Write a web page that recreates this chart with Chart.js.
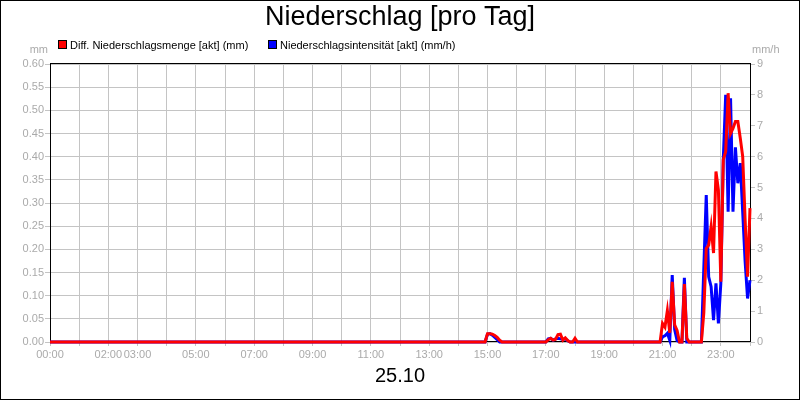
<!DOCTYPE html>
<html>
<head>
<meta charset="utf-8">
<script src="https://cdn.jsdelivr.net/npm/chart.js@4"></script>
<style>
  html, body { margin: 0; padding: 0; background: #fff; }
</style>
</head>
<body>
<canvas id="niederschlag" width="800" height="400"></canvas>
<script>
// Stunden mit Beschriftung an der x-Achse (wie im Original)
const labeledHours = [0, 2, 3, 5, 7, 9, 11, 13, 15, 17, 19, 21, 23];

// Diff. Niederschlagsmenge (mm), 5-Minuten-Werte
const mengeTimes = ['00:00', '14:55', '15:00', '15:05', '15:10', '15:15', '15:20', '15:25', '15:30',
  '17:00', '17:05', '17:10', '17:15', '17:20', '17:25', '17:30', '17:35', '17:40', '17:45', '17:50', '17:55', '18:00', '18:05',
  '20:55', '21:00', '21:05', '21:10', '21:15', '21:20', '21:25', '21:30', '21:35', '21:40', '21:45', '21:50', '21:55',
  '22:20', '22:25', '22:30', '22:35', '22:40', '22:45', '22:50', '22:55', '23:00', '23:05', '23:10', '23:15',
  '23:20', '23:25', '23:30', '23:35', '23:40', '23:45', '23:50', '23:55', '24:00'];
const mengeValues = [0, 0, 0.018, 0.018, 0.017, 0.014, 0.010, 0.004, 0,
  0, 0.005, 0.008, 0.004, 0.006, 0.016, 0.017, 0.004, 0.009, 0.003, 0, 0, 0.008, 0,
  0, 0.040, 0.032, 0.068, 0.020, 0.130, 0.037, 0.025, 0, 0, 0.125, 0.008, 0,
  0, 0.063, 0.202, 0.209, 0.249, 0.192, 0.368, 0.328, 0.130, 0.393, 0.411, 0.537,
  0.450, 0.461, 0.476, 0.476, 0.440, 0.400, 0.263, 0.141, 0.289];

// Niederschlagsintensität (mm/h)
const intensTimes = ['00:00', '14:55', '15:00', '15:05', '15:10', '15:15', '15:20', '15:25',
  '17:00', '17:05', '17:10', '17:15', '17:20', '17:25', '17:30', '17:35', '17:40', '17:45', '17:50',
  '20:55', '21:00', '21:05', '21:10', '21:15', '21:20', '21:25', '21:30', '21:35', '21:40', '21:45', '21:50',
  '22:20', '22:25', '22:30', '22:35', '22:40', '22:45', '22:50', '22:55', '23:00', '23:05', '23:10', '23:15',
  '23:20', '23:25', '23:30', '23:35', '23:40', '23:45', '23:50', '23:55', '24:00'];
const intensValues = [0, 0, 0.25, 0.27, 0.22, 0.15, 0.08, 0,
  0, 0.10, 0.12, 0.06, 0.10, 0.12, 0.10, 0.08, 0.10, 0.04, 0,
  0, 0.17, 0.20, 0.28, 0.05, 2.17, 0.40, 0.05, 0, 0, 2.08, 0,
  0, 2.40, 4.76, 2.11, 1.79, 0.71, 1.90, 0.60, 1.90, 5.90, 8.00, 4.22,
  7.89, 4.22, 6.30, 5.14, 5.79, 4.20, 2.60, 1.41, 2.00];

const toHours = (t) => {
  const [h, m] = t.split(':').map(Number);
  return h + m / 60;
};
const toPoints = (times, values) => times.map((t, i) => ({ x: toHours(t), y: values[i] }));

const FONT = '"Liberation Sans", Arial, sans-serif';
const GRAY = '#aaaaaa';
const GRID = '#c4c4c4';

// Rahmen, Einheiten und Legende
const extras = {
  id: 'extras',
  beforeDatasetsDraw(chart) {
    const { ctx, chartArea: a } = chart;
    ctx.save();
    ctx.strokeStyle = '#000';
    ctx.lineWidth = 1;
    ctx.strokeRect(a.left + 0.5, a.top - 0.5, a.right - a.left, a.bottom - a.top);
    ctx.restore();
  },
  afterDraw(chart) {
    const { ctx } = chart;
    ctx.save();
    ctx.strokeStyle = '#000';
    ctx.lineWidth = 1;
    ctx.strokeRect(0.5, 0.5, 799, 399);

    ctx.font = '11px ' + FONT;
    ctx.fillStyle = GRAY;
    ctx.textBaseline = 'alphabetic';
    ctx.textAlign = 'right';
    ctx.fillText('mm', 48, 53);
    ctx.textAlign = 'left';
    ctx.fillText('mm/h', 752, 53);

    const legendX = [58, 268];
    chart.data.datasets.forEach((ds, i) => {
      const x = legendX[i];
      ctx.fillStyle = ds.borderColor;
      ctx.fillRect(x + 0.5, 40.5, 8, 8);
      ctx.strokeStyle = '#000';
      ctx.strokeRect(x + 0.5, 40.5, 8, 8);
      ctx.fillStyle = '#000';
      ctx.textAlign = 'left';
      ctx.fillText(ds.label, x + 12, 49);
    });
    ctx.restore();
  }
};

new Chart(document.getElementById('niederschlag'), {
  type: 'line',
  data: {
    datasets: [
      {
        label: 'Diff. Niederschlagsmenge [akt] (mm)',
        data: toPoints(mengeTimes, mengeValues),
        borderColor: '#ff0000',
        backgroundColor: '#ff0000',
        borderWidth: 3,
        pointRadius: 0,
        tension: 0,
        clip: false,
        yAxisID: 'y'
      },
      {
        label: 'Niederschlagsintensität [akt] (mm/h)',
        data: toPoints(intensTimes, intensValues),
        borderColor: '#0000ff',
        backgroundColor: '#0000ff',
        borderWidth: 3,
        pointRadius: 0,
        tension: 0,
        clip: false,
        yAxisID: 'y1'
      }
    ]
  },
  options: {
    responsive: false,
    animation: false,
    layout: { padding: 0 },
    plugins: {
      legend: { display: false },
      tooltip: { enabled: false },
      title: {
        display: true,
        text: 'Niederschlag [pro Tag]',
        color: '#000',
        font: { family: FONT, size: 27, weight: 'normal' },
        padding: { top: 1, bottom: 30.6 }
      }
    },
    scales: {
      x: {
        type: 'linear',
        min: 0,
        max: 24,
        afterFit: (s) => { s.height = 58; },
        ticks: {
          stepSize: 1,
          autoSkip: false,
          maxRotation: 0,
          padding: 2,
          color: GRAY,
          font: { family: FONT, size: 11 },
          callback: (v) => labeledHours.includes(v) ? String(v).padStart(2, '0') + ':00' : ''
        },
        grid: { color: GRID, tickLength: 4 },
        border: { display: false },
        title: {
          display: true,
          text: '25.10',
          color: '#000',
          font: { family: FONT, size: 20 },
          padding: { top: 0, bottom: 12 }
        }
      },
      y: {
        position: 'left',
        min: 0,
        max: 0.6,
        afterFit: (s) => { s.width = 50; },
        ticks: {
          stepSize: 0.05,
          padding: 1,
          color: GRAY,
          font: { family: FONT, size: 11 },
          callback: (v) => Number(v).toFixed(2)
        },
        grid: { color: GRID, tickLength: 5 },
        border: { display: false }
      },
      y1: {
        position: 'right',
        min: 0,
        max: 9,
        afterFit: (s) => { s.width = 50; },
        ticks: {
          stepSize: 1,
          padding: 2,
          color: GRAY,
          font: { family: FONT, size: 11 }
        },
        grid: { drawOnChartArea: false, color: GRID, tickLength: 5 },
        border: { display: false }
      }
    }
  },
  plugins: [extras]
});
</script>
</body>
</html>
